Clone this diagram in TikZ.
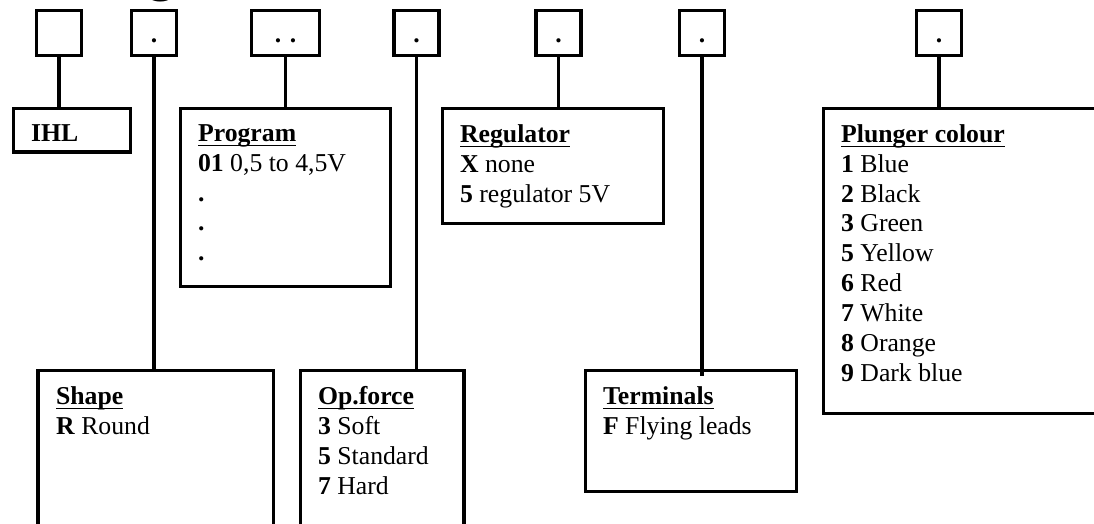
\documentclass[tikz,border=0pt]{standalone}
\usepackage{fontspec}
\setmainfont{Liberation Serif}
\newfontfamily\titlefont{Liberation Sans}

\newcommand{\boxhead}[1]{\leavevmode\setbox0\hbox{\textbf{#1}}\rlap{\rule[-2.4pt]{\wd0}{0.8pt}}\box0}
\newcommand{\boxbody}[3]{\parbox[c][\dimexpr#2-0.54cm\relax][t]{\dimexpr#1-0.6cm\relax}{\fontsize{12.2}{14.2}\selectfont #3}}

\tikzset{codebox/.style={draw, minimum width=0.75cm, minimum height=0.75cm, inner sep=0pt,
           text height=9.4pt, text depth=0pt, font=\fontsize{12.2}{14.2}\selectfont\bfseries},
         optbox/.style={draw, anchor=north west, inner xsep=0.3cm, inner ysep=0.27cm}}

\begin{document}
\begin{tikzpicture}[line width=1.5pt]
        \useasboundingbox (0,0) rectangle (18.233,-8.717);

        % Cut-off heading
        \node[anchor=base, inner sep=0pt, font=\titlefont\bfseries\fontsize{28}{28}\selectfont] (title) at (2.7,0.17) {g};

        % Code boxes
        \node[codebox] (t1) at (0.983,-0.55) {};
        \node[codebox] (t2) at (2.567,-0.55) {.};
        \node[codebox, minimum width=1.133cm] (t3) at (4.758,-0.55) {. .};
        \node[codebox] (t4) at (6.942,-0.55) {.};
        \node[codebox] (t5) at (9.308,-0.55) {.};
        \node[codebox] (t6) at (11.7,-0.55) {.};
        \node[codebox] (t7) at (15.65,-0.55) {.};

        % Upper option boxes
        \node[optbox] (ihl) at (0.192,-1.775) {\boxbody{1.95cm}{0.733cm}{\textbf{IHL}}};
        \node[optbox] (prog) at (2.975,-1.775) {\boxbody{3.5cm}{2.967cm}{\boxhead{Program}\\ \textbf{01} 0,5 to 4,5V\\ \textbf{.}\\ \textbf{.}\\ \textbf{.}}};
        \node[optbox] (reg) at (7.342,-1.775) {\boxbody{3.683cm}{1.917cm}{\boxhead{Regulator}\\ \textbf{X} none\\ \textbf{5} regulator 5V}};
        \node[optbox] (col) at (13.692,-1.775) {\boxbody{4.833cm}{5.083cm}{\boxhead{Plunger colour}\\ \textbf{1} Blue\\ \textbf{2} Black\\ \textbf{3} Green\\ \textbf{5} Yellow\\ \textbf{6} Red\\ \textbf{7} White\\ \textbf{8} Orange\\ \textbf{9} Dark blue}};

        % Lower option boxes
        \node[optbox] (shape) at (0.608,-6.142) {\boxbody{3.917cm}{2.9cm}{\boxhead{Shape}\\ \textbf{R} Round}};
        \node[optbox] (force) at (4.975,-6.142) {\boxbody{2.733cm}{2.9cm}{\boxhead{Op.force}\\ \textbf{3} Soft\\ \textbf{5} Standard\\ \textbf{7} Hard}};
        \node[optbox] (term) at (9.725,-6.142) {\boxbody{3.517cm}{2.017cm}{\boxhead{Terminals}\\ \textbf{F} Flying leads}};

        % Connectors
        \draw (t1.south) -- (t1.south |- ihl.north);
        \draw (t2.south) -- (t2.south |- shape.north);
        \draw (t3.south) -- (t3.south |- prog.north);
        \draw (t4.south) -- (t4.south |- force.north);
        \draw (t5.south) -- (t5.south |- reg.north);
        \draw (t6.south) -- ([yshift=-0.13cm]t6.south |- term.north);
        \draw (t7.south) -- (t7.south |- col.north);

\end{tikzpicture}
\end{document}
